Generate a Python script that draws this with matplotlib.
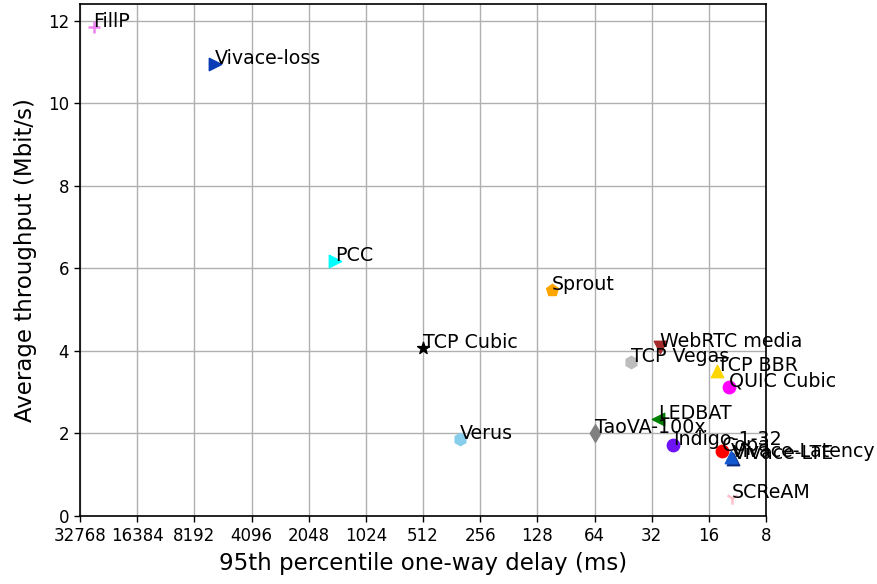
import matplotlib
matplotlib.use("Agg")
import matplotlib.pyplot as plt
from matplotlib.ticker import FixedLocator, FixedFormatter, NullLocator

names = ['FillP', 'Vivace-loss', 'PCC', 'Sprout', 'TCP Cubic', 'Verus',
         'TaoVA-100x', 'TCP Vegas', 'WebRTC media', 'TCP BBR', 'QUIC Cubic',
         'LEDBAT', 'Indigo-1-32', 'Copa', 'Vivace-LTE', 'Vivace-Latency', 'SCReAM']
delay_ms = [27800, 6410, 1494, 107.7, 512, 328,
            63.7, 41.3, 29.0, 14.55, 12.48,
            29.5, 24.6, 13.7, 11.9, 12.25, 12.1]
throughput = [11.85, 10.95, 6.17, 5.48, 4.07, 1.87,
              2.00, 3.72, 4.10, 3.52, 3.13,
              2.34, 1.72, 1.57, 1.37, 1.43, 0.44]
colors = ['violet', '#0A3DB5', 'cyan', 'orange', 'black', 'skyblue',
          'grey', '#BDBDBD', 'brown', 'gold', 'magenta',
          'green', '#6E12F5', 'red', '#0A2A80', '#1458D0', 'pink']
markers = ['+', '>', '>', 'p', '*', 'h',
           'd', 'h', 'v', '^', 'o',
           '<', 'o', 'o', '^', '^', '1']

xticks = [32768, 16384, 8192, 4096, 2048, 1024, 512, 256, 128, 64, 32, 16, 8]

fig = plt.figure(figsize=(8.77, 5.84), dpi=100)
ax = fig.add_axes([80 / 877, 1 - 516 / 584, (766 - 80) / 877, (516 - 4) / 584])

for n, x, y, c, m in zip(names, delay_ms, throughput, colors, markers):
    ax.scatter(x, y, color=c, marker=m, s=80, zorder=3,
               linewidths=1.8 if m in ('+', '1') else None)
    ax.annotate(n, (x, y), fontsize=13.7, zorder=4)

ax.set_xscale('log', base=2)
ax.set_xlim(32768, 8)
ax.set_ylim(0, 12.4)
ax.xaxis.set_major_locator(FixedLocator(xticks))
ax.xaxis.set_major_formatter(FixedFormatter([str(t) for t in xticks]))
ax.xaxis.set_minor_locator(NullLocator())
ax.set_yticks([0, 2, 4, 6, 8, 10, 12])
ax.tick_params(labelsize=12, length=4.5, width=1.0)
ax.set_xlabel('95th percentile one-way delay (ms)', fontsize=16.5, labelpad=5)
ax.set_ylabel('Average throughput (Mbit/s)', fontsize=16.5, labelpad=8)
ax.grid(True, color='#b0b0b0', linewidth=1.0)
ax.set_axisbelow(True)
for s in ax.spines.values():
    s.set_linewidth(1.2)

fig.savefig('out.png', dpi=100)
